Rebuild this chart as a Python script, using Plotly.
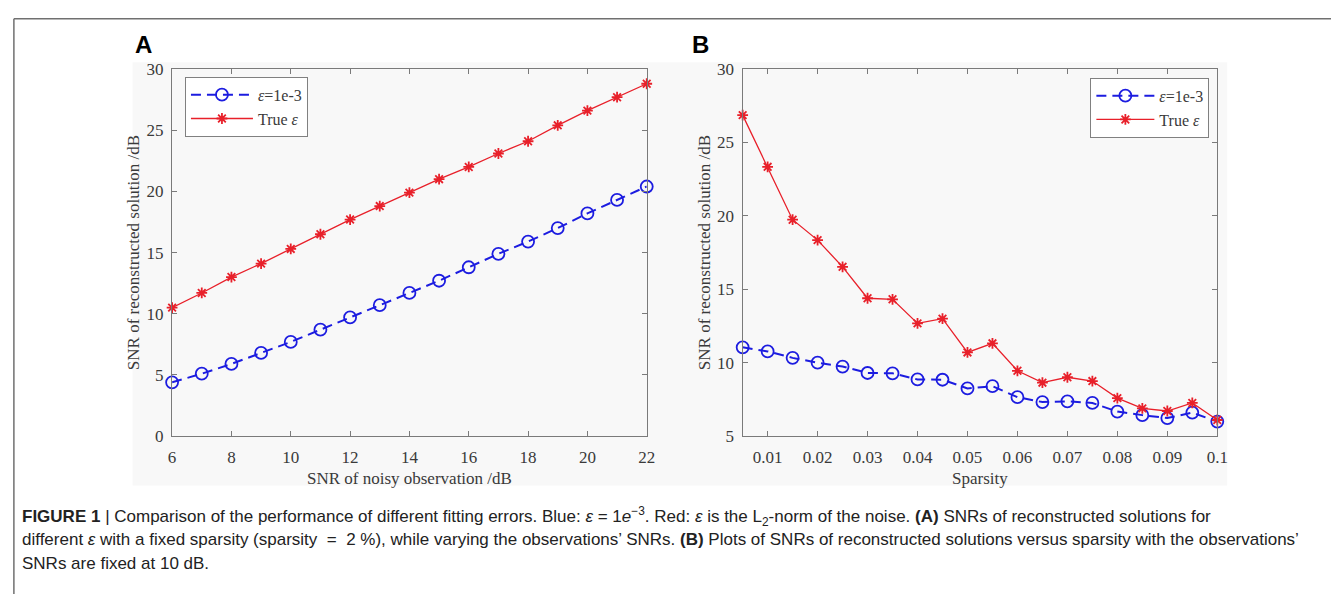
import plotly.graph_objects as go

# ---------------- data ----------------
snr_obs = [6, 7, 8, 9, 10, 11, 12, 13, 14, 15, 16, 17, 18, 19, 20, 21, 22]
a_blue = [4.4, 5.1, 5.9, 6.8, 7.7, 8.7, 9.7, 10.7, 11.7, 12.7, 13.8, 14.9, 15.9, 17.0, 18.2, 19.3, 20.4]
a_red = [10.5, 11.7, 13.0, 14.1, 15.3, 16.5, 17.7, 18.8, 19.9, 21.0, 22.0, 23.1, 24.1, 25.4, 26.6, 27.7, 28.8]

sparsity = [0.005, 0.01, 0.015, 0.02, 0.025, 0.03, 0.035, 0.04, 0.045, 0.05,
            0.055, 0.06, 0.065, 0.07, 0.075, 0.08, 0.085, 0.09, 0.095, 0.1]
b_blue = [11.05, 10.77, 10.33, 10.0, 9.74, 9.3, 9.28, 8.86, 8.84, 8.25,
          8.4, 7.65, 7.32, 7.37, 7.26, 6.67, 6.43, 6.23, 6.6, 5.99]
b_red = [26.86, 23.34, 19.74, 18.35, 16.53, 14.39, 14.32, 12.68, 13.0, 10.7,
         11.32, 9.45, 8.64, 9.01, 8.75, 7.59, 6.89, 6.71, 7.26, 6.1]

a_xticks = [6, 8, 10, 12, 14, 16, 18, 20, 22]
b_xticks = [0.01, 0.02, 0.03, 0.04, 0.05, 0.06, 0.07, 0.08, 0.09, 0.1]
b_xlabels = ["0.01", "0.02", "0.03", "0.04", "0.05", "0.06", "0.07", "0.08", "0.09", "0.1"]
a_yticks = [0, 5, 10, 15, 20, 25, 30]
b_yticks = [5, 10, 15, 20, 25, 30]

name_blue = "<i>ε</i>=1e-3"
name_red = "True <i>ε</i>"

caption_lines = [
    "<b>FIGURE 1</b> | Comparison of the performance of different fitting errors. Blue: <i>ε</i> = 1<i>e</i><sup>−3</sup>. "
    "Red: <i>ε</i> is the L<sub>2</sub>-norm of the noise. <b>(A)</b> SNRs of reconstructed solutions for",
    "different <i>ε</i> with a fixed sparsity (sparsity  =  2 %), while varying the observations’ SNRs. "
    "<b>(B)</b> Plots of SNRs of reconstructed solutions versus sparsity with the observations’",
    "SNRs are fixed at 10 dB.",
]

# ---------------- style ----------------
W, H = 1342, 604
BLUE = "#1c1ce0"
RED = "#e8202a"
SERIF = "Liberation Serif, Times New Roman, serif"
CAPFONT = "Liberation Sans Narrow, Liberation Sans, Arial, sans-serif"
AXCOL = "#7a7a7a"
TXTCOL = "#3a3a3a"


def px(x):
    return x / W


def py(y):
    return 1 - y / H


fig = go.Figure()

blue_style = dict(mode="lines+markers", cliponaxis=False,
                  line=dict(color=BLUE, width=2, dash="10px,6px"),
                  marker=dict(symbol="circle-open", size=12, color=BLUE, line=dict(width=1.8)))
red_style = dict(mode="lines+markers", cliponaxis=False,
                 line=dict(color=RED, width=1.3),
                 marker=dict(symbol="asterisk-open", size=9, color=RED, line=dict(width=1.8, color=RED)))

fig.add_trace(go.Scatter(x=snr_obs, y=a_blue, name=name_blue, xaxis="x", yaxis="y", legend="legend", **blue_style))
fig.add_trace(go.Scatter(x=snr_obs, y=a_red, name=name_red, xaxis="x", yaxis="y", legend="legend", **red_style))
fig.add_trace(go.Scatter(x=sparsity, y=b_blue, name=name_blue, xaxis="x2", yaxis="y2", legend="legend2", **blue_style))
fig.add_trace(go.Scatter(x=sparsity, y=b_red, name=name_red, xaxis="x2", yaxis="y2", legend="legend2", **red_style))

axis_common = dict(showline=True, linecolor=AXCOL, linewidth=1.3, mirror="ticks",
                   ticks="inside", ticklen=5, tickcolor=AXCOL, tickwidth=1,
                   showgrid=False, zeroline=False,
                   tickfont=dict(family=SERIF, size=17, color=TXTCOL),
                   title_font=dict(family=SERIF, size=17, color=TXTCOL))

y_dom = [py(441), py(62)]
fig.update_layout(
    width=W, height=H,
    margin=dict(l=0, r=0, t=0, b=0),
    paper_bgcolor="white",
    plot_bgcolor="#f8f8f8",
    xaxis=dict(domain=[px(170), px(650)], range=[6, 22], tickvals=a_xticks, ticklabelstandoff=5,
               title=dict(text="SNR of noisy observation /dB", standoff=6), anchor="y", **axis_common),
    yaxis=dict(domain=y_dom, range=[0, 30], tickvals=a_yticks, ticklabelstandoff=4,
               title=dict(text="SNR of reconstructed solution /dB", standoff=2), anchor="x", **axis_common),
    xaxis2=dict(domain=[px(747), px(1227)], range=[0.005, 0.1], tickvals=b_xticks, ticktext=b_xlabels,
                ticklabelstandoff=5,
                title=dict(text="Sparsity", standoff=6), anchor="y2", **axis_common),
    yaxis2=dict(domain=y_dom, range=[5, 30], tickvals=b_yticks, ticklabelstandoff=4,
                title=dict(text="SNR of reconstructed solution /dB", standoff=2), anchor="x2", **axis_common),
    legend=dict(x=px(183), y=py(70), xanchor="left", yanchor="top",
                bgcolor="white", bordercolor="#808080", borderwidth=1,
                font=dict(family=SERIF, size=16, color=TXTCOL), tracegroupgap=0,
                itemwidth=62),
    legend2=dict(x=px(1219), y=py(71), xanchor="right", yanchor="top",
                 bgcolor="white", bordercolor="#808080", borderwidth=1,
                 font=dict(family=SERIF, size=16, color=TXTCOL), tracegroupgap=0,
                 itemwidth=58),
    showlegend=True,
)

# background figure panel and outer frame
fig.add_shape(type="rect", xref="paper", yref="paper", x0=px(130), x1=px(1237), y0=py(492), y1=py(55),
              fillcolor="#f8f8f8", line=dict(width=0), layer="below")
fig.add_shape(type="line", xref="paper", yref="paper", x0=px(10), x1=px(10), y0=0, y1=py(10),
              line=dict(color="#707070", width=1.5))
fig.add_shape(type="line", xref="paper", yref="paper", x0=px(10), x1=1, y0=py(10), y1=py(10),
              line=dict(color="#707070", width=1.5))

# panel letters
fig.add_annotation(text="<b>A</b>", x=px(130), y=py(37), xref="paper", yref="paper",
                   xanchor="left", yanchor="middle", showarrow=False,
                   font=dict(family="Liberation Sans, Arial, sans-serif", size=24, color="black"))
fig.add_annotation(text="<b>B</b>", x=px(694), y=py(37), xref="paper", yref="paper",
                   xanchor="left", yanchor="middle", showarrow=False,
                   font=dict(family="Liberation Sans, Arial, sans-serif", size=24, color="black"))

# caption
for i, line in enumerate(caption_lines):
    fig.add_annotation(text=line, x=px(16), y=py(524 + i * 24), xref="paper", yref="paper",
                       xanchor="left", yanchor="middle", showarrow=False, align="left",
                       font=dict(family=CAPFONT, size=17, color="#222222"))

fig.write_html("out.html")
